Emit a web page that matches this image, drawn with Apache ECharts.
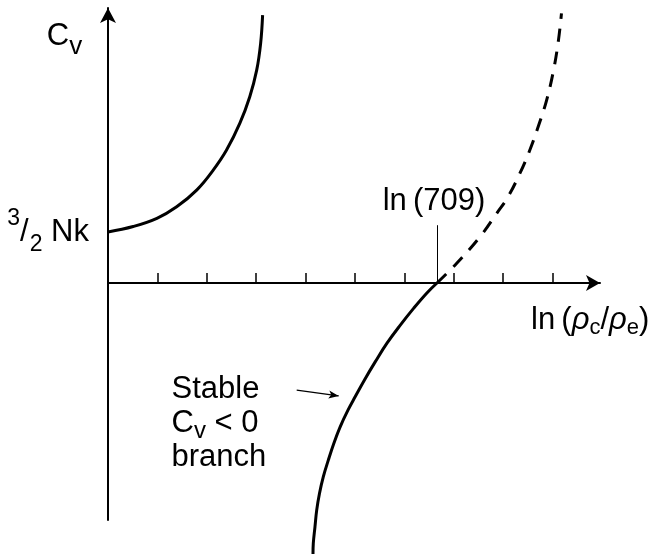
<!DOCTYPE html>
<html>
<head>
<meta charset="utf-8">
<title>Cv</title>
<script src="https://cdn.jsdelivr.net/npm/echarts@6/dist/echarts.min.js"></script>
<style>
html,body{margin:0;padding:0;background:#fff;}
#cv-chart{width:657px;height:554px;}
</style>
</head>
<body>
<div id="cv-chart"></div>
<script>
//字体
var FONT="'Liberation Sans', Arial, Helvetica, sans-serif";

//x轴刻度位置
var tickValues=[1,2,3,4,5,6,7,8,9];
//y轴标注位置 (3/2 Nk)
var nkValues=[1.5];

//左上分支 Cv>0
var positiveBranch=[[0,1.5],[0.51,1.66],[0.99,1.90],[1.39,2.24],[1.80,2.74],[2.13,3.32],
	[2.40,3.91],[2.67,4.70],[2.87,5.48],[3.01,6.26],[3.09,7.05],[3.13,7.88]];
//稳定分支 Cv<0 (实线)
var stableBranch=[[4.150,-7.97],[4.156,-7.66],[4.190,-7.17],[4.225,-6.68],[4.281,-6.19],[4.358,-5.70],
	[4.460,-5.21],[4.571,-4.72],[4.700,-4.23],[4.858,-3.74],[5.006,-3.34],[5.192,-2.85],
	[5.409,-2.32],[5.648,-1.77],[5.917,-1.24],[6.190,-0.74],[6.451,-0.30],[6.660,0]];
//不稳定分支 (虚线)
var unstableBranch=[[6.66,0],[7.06,0.58],[7.53,1.36],[7.87,2.05],[8.10,2.54],[8.34,3.23],
	[8.54,3.91],[8.71,4.60],[8.88,5.38],[9.02,6.26],[9.12,7.15],[9.18,7.93]];

//ln(709) 竖线
var ln709Line=[[6.66,0],[6.66,1.7]];
//说明文字的箭头
var noteArrow=[[3.82,-3.15],[4.67,-3.32]];

var chart=initChart();

/**
 * 初始化图表
 * @returns
 */
function initChart(){
	var myChart=echarts.init(document.getElementById('cv-chart'));

	var option={
		animation:false,
		backgroundColor:'#fff',
		textStyle:{fontFamily:FONT,color:'#000'},
		grid:{
			left:108,
			top:8,
			width:492,
			height:512,
			outerBoundsMode:'none'
		},
		xAxis:{
			type:'value',
			min:0,
			max:9.96,
			axisLine:{
				onZero:true,
				symbol:['none','arrow'],
				symbolSize:[12,14],
				lineStyle:{color:'#000',width:2}
			},
			axisTick:{
				show:true,
				inside:true,
				length:10,
				customValues:tickValues,
				lineStyle:{color:'#000',width:1.5}
			},
			axisLabel:{show:false},
			splitLine:{show:false}
		},
		yAxis:{
			type:'value',
			min:-6.97,
			max:8.088,
			axisLine:{
				show:true,
				onZero:false,
				symbol:['none','arrow'],
				symbolSize:[12,15],
				lineStyle:{color:'#000',width:2}
			},
			axisTick:{show:false},
			axisLabel:{
				show:true,
				customValues:nkValues,
				margin:19,
				color:'#000',
				fontFamily:FONT,
				fontSize:31,
				lineHeight:32,
				formatter:function(){
					return '{sup|3}{sl|/}{sub|2} Nk';
				},
				rich:{
					sup:{fontSize:23,fontFamily:FONT,color:'#000',padding:[0,0,26,0]},
					sl:{fontSize:31,fontFamily:FONT,color:'#000'},
					sub:{fontSize:23,fontFamily:FONT,color:'#000',padding:[26,0,0,1]}
				}
			},
			splitLine:{show:false}
		},
		series:[
			{
				name:'positive',
				type:'line',
				data:positiveBranch,
				smooth:0.4,
				showSymbol:false,
				clip:false,
				lineStyle:{color:'#000',width:3}
			},
			{
				name:'stable',
				type:'line',
				data:stableBranch,
				smooth:0.4,
				showSymbol:false,
				clip:false,
				lineStyle:{color:'#000',width:3},
				markLine:{
					silent:true,
					symbol:['none','none'],
					lineStyle:{color:'#000',width:1,type:'solid'},
					label:{
						show:true,
						position:'end',
						distance:8,
						formatter:'ln\u2009(709)',
						color:'#000',
						fontFamily:FONT,
						fontSize:31,
						lineHeight:32,
						padding:[0,6,0,0]
					},
					data:[[{coord:ln709Line[0]},{coord:ln709Line[1]}]]
				}
			},
			{
				name:'unstable',
				type:'line',
				data:unstableBranch,
				smooth:0.4,
				showSymbol:false,
				clip:false,
				lineStyle:{color:'#000',width:3,type:[13,10]}
			},
			{
				//说明箭头
				name:'note',
				type:'line',
				data:[],
				markLine:{
					silent:true,
					symbol:['none','arrow'],
					symbolSize:[6,10],
					lineStyle:{color:'#000',width:1.2,type:'solid'},
					label:{show:false},
					data:[[{coord:noteArrow[0]},{coord:noteArrow[1]}]]
				}
			}
		],
		graphic:[
			{
				//纵轴名称
				type:'text',
				x:46.8,
				y:20.5,
				style:{
					text:'C{sub|v}',
					fontFamily:FONT,
					fontSize:31,
					lineHeight:32,
					fill:'#000',
					verticalAlign:'top',
					rich:{
						sub:{fontFamily:FONT,fontSize:26,fill:'#000',padding:[21,0,0,0]}
					}
				}
			},
			{
				//横轴名称
				type:'text',
				x:531,
				y:304,
				style:{
					text:'ln\u2009({rho|ρ}{sub|c}/{rho|ρ}{sub|e})',
					fontFamily:FONT,
					fontSize:31,
					lineHeight:32,
					fill:'#000',
					verticalAlign:'top',
					rich:{
						rho:{fontFamily:FONT,fontSize:31,fontStyle:'italic',fill:'#000'},
						sub:{fontFamily:FONT,fontSize:22,fill:'#000',padding:[16,0,0,0]}
					}
				}
			},
			{
				//稳定分支说明
				type:'text',
				x:171.5,
				y:372.5,
				style:{
					text:'Stable\nC{sub|v} < 0\nbranch',
					fontFamily:FONT,
					fontSize:31,
					lineHeight:34,
					fill:'#000',
					verticalAlign:'top',
					rich:{
						sub:{fontFamily:FONT,fontSize:24,fill:'#000',padding:[15,0,0,0]}
					}
				}
			}
		]
	};
	myChart.setOption(option);
	return myChart;
}
</script>
</body>
</html>
